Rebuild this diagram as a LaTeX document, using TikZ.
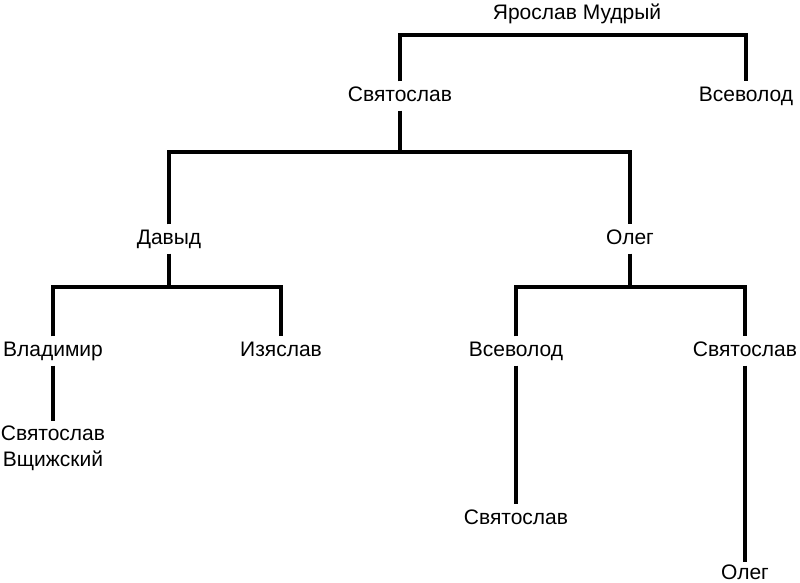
\documentclass[tikz,border=0pt]{standalone}
\usepackage{fontspec}
\setmainfont{Liberation Sans}

\begin{document}
\begin{tikzpicture}[x=1pt,y=-1pt,
    person/.style={font=\fontsize{21}{26}\selectfont, text height=15pt, text depth=4pt, inner sep=5pt},
    link/.style={line width=3.2pt}]
\useasboundingbox (0,0) rectangle (800,582);
\node[person] (yar) at (577,14) {Ярослав Мудрый};
\node[person] (svyat) at (400,96) {Святослав};
\node[person] (vsev) at (746,96) {Всеволод};
\node[person] (davyd) at (169,239) {Давыд};
\node[person] (oleg) at (630,239) {Олег};
\node[person] (vlad) at (53,351) {Владимир};
\node[person] (izya) at (281,351) {Изяслав};
\node[person] (vsevb) at (516,351) {Всеволод};
\node[person] (svyatb) at (745,351) {Святослав};
\node[person, text height=, text depth=, align=center, anchor=north] (vshch) at (53,421) {Святослав\\Вщижский};
\node[person] (svyatc) at (516,519) {Святослав};
\node[person, text depth=0pt, inner ysep=2pt, anchor=north] (olegb) at (745,562) {Олег};
\coordinate (b0) at (577,35);
\coordinate (b1) at (400,152);
\coordinate (b2) at (169,287);
\coordinate (b3) at (630,287);
\draw[link] (svyat.north) |- (b0) -| (vsev.north);
\draw[link] (svyat.south) -- (b1);
\draw[link] (davyd.north) |- (b1) -| (oleg.north);
\draw[link] (davyd.south) -- (b2);
\draw[link] (vlad.north) |- (b2) -| (izya.north);
\draw[link] (oleg.south) -- (b3);
\draw[link] (vsevb.north) |- (b3) -| (svyatb.north);
\draw[link] (vlad.south) -- (vshch.north);
\draw[link] (vsevb.south) -- (svyatc.north);
\draw[link] (svyatb.south) -- (olegb.north);
\end{tikzpicture}
\end{document}
